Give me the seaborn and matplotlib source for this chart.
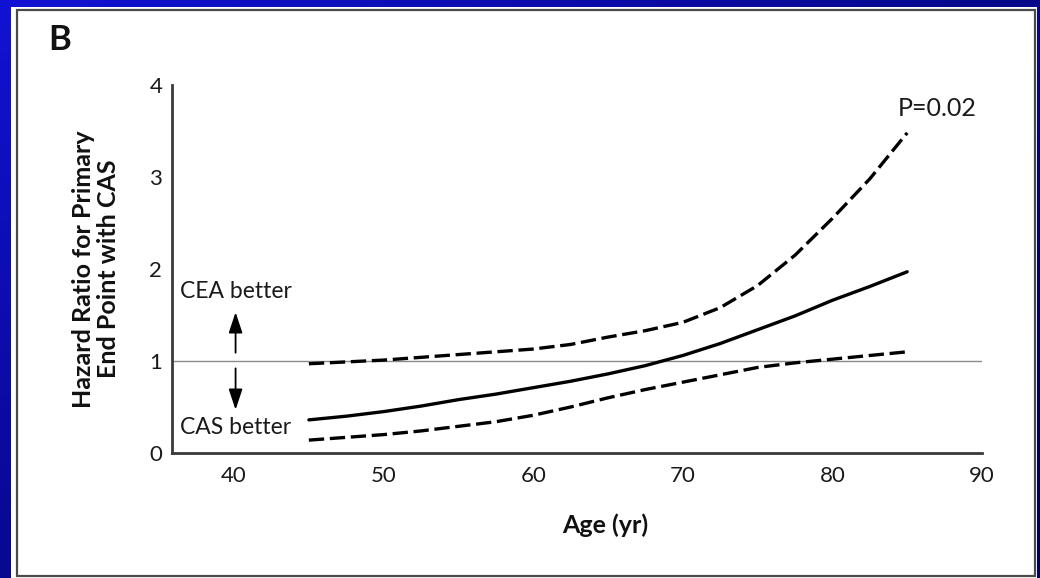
import numpy as np
import pandas as pd
import matplotlib
matplotlib.use("Agg")
import matplotlib.pyplot as plt
from matplotlib.patches import Rectangle
from matplotlib.colors import LinearSegmentedColormap
import seaborn as sns

# Hazard ratio (CAS vs CEA) by age, with 95% confidence band
age = [45, 47.5, 50, 52.5, 55, 57.5, 60, 62.5, 65, 67.5, 70, 72.5, 75, 77.5, 80, 82.5, 85]
hr_estimate = [0.36, 0.40, 0.45, 0.51, 0.58, 0.64, 0.71, 0.78, 0.86, 0.95, 1.06, 1.19, 1.34, 1.49, 1.66, 1.81, 1.97]
hr_upper = [0.97, 0.99, 1.01, 1.04, 1.07, 1.10, 1.13, 1.18, 1.26, 1.33, 1.42, 1.58, 1.82, 2.15, 2.55, 2.98, 3.48]
hr_lower = [0.14, 0.17, 0.20, 0.24, 0.29, 0.34, 0.41, 0.50, 0.60, 0.69, 0.77, 0.85, 0.93, 0.98, 1.02, 1.06, 1.10]

x_ticks = [40, 50, 60, 70, 80, 90]
y_ticks = [0, 1, 2, 3, 4]

df = pd.DataFrame({"age": age, "est": hr_estimate, "hi": hr_upper, "lo": hr_lower})

sns.set_theme(style="white")
plt.rcParams["font.family"] = ["Lato", "DejaVu Sans"]

W, H = 1040, 578
fig = plt.figure(figsize=(W / 100, H / 100), dpi=100)

# blue slide background, brighter toward the upper left
bg = fig.add_axes([0, 0, 1, 1], zorder=-10)
gx, gy = np.meshgrid(np.linspace(0, 1, 300), np.linspace(0, 1, 300))
shade = np.clip(1.0 - 0.6 * gx - 0.55 * gy, 0, 1)
cmap = LinearSegmentedColormap.from_list("slide", ["#000058", "#1212d4"])
bg.imshow(shade, cmap=cmap, extent=[0, 1, 0, 1], origin="upper", aspect="auto")
bg.axis("off")

# white panel with a thin grey frame
fig.patches.append(Rectangle((11 / W, 0), (1037 - 11) / W, (578 - 7) / H,
                             transform=fig.transFigure, facecolor="white",
                             edgecolor="none", zorder=-5))
fig.patches.append(Rectangle((17 / W, 1 - 576 / H), (1035 - 17) / W, (576 - 10) / H,
                             transform=fig.transFigure, facecolor="none",
                             edgecolor="#4a4a4a", lw=1.6, zorder=-4))

ax = fig.add_axes([172 / W, 1 - 453 / H, (982 - 172) / W, (453 - 85) / H])
ax.set_facecolor("none")

dash = (4.6, 1.7)
ax.axhline(1, color="#8a8a8a", lw=1.0, zorder=1)
sns.lineplot(data=df, x="age", y="hi", ax=ax, color="black", lw=2.4, dashes=dash)
sns.lineplot(data=df, x="age", y="est", ax=ax, color="black", lw=2.4)
sns.lineplot(data=df, x="age", y="lo", ax=ax, color="black", lw=2.4, dashes=dash)
for ln in (ax.lines[1], ax.lines[3]):
    ln.set_dashes(dash)

ax.set_xlim(35.85, 90)
ax.set_ylim(0, 4)
ax.set_xticks(x_ticks)
ax.set_yticks(y_ticks)
for s in ["top", "right"]:
    ax.spines[s].set_visible(False)
for s in ["left", "bottom"]:
    ax.spines[s].set_color("#3a3a3a")
    ax.spines[s].set_linewidth(2.0)
ax.tick_params(axis="x", direction="out", length=8, width=1.5, color="#3a3a3a",
               labelsize=16, pad=1, labelcolor="#1a1a1a")
ax.tick_params(axis="y", direction="out", length=6, width=1.5, color="#3a3a3a",
               labelsize=16, pad=1, labelcolor="#1a1a1a")

ax.set_xlabel("Age (yr)", fontsize=18, fontweight="bold", color="#111111")
ax.xaxis.set_label_coords((605 - 172) / 810, -0.165)
ax.set_ylabel("Hazard Ratio for Primary\nEnd Point with CAS", fontsize=18,
              fontweight="bold", color="#111111", linespacing=1.1)
ax.yaxis.set_label_coords(-0.064, 0.5)

# direction annotations
arrow = dict(arrowstyle="-|>,head_length=0.9,head_width=0.3", color="black",
             lw=1.3, mutation_scale=14, shrinkA=0, shrinkB=0)
ax.annotate("", xy=(40.1, 1.53), xytext=(40.1, 1.09), arrowprops=arrow)
ax.annotate("", xy=(40.1, 0.47), xytext=(40.1, 0.92), arrowprops=arrow)
ax.text(40.1, 1.75, "CEA better", ha="center", va="center", fontsize=16.5, color="#1a1a1a")
ax.text(40.1, 0.28, "CAS better", ha="center", va="center", fontsize=16.5, color="#1a1a1a")
ax.text(84.4, 3.75, "P=0.02", ha="left", va="center", fontsize=18, color="#1a1a1a")

fig.text(48 / W, 1 - 50 / H, "B", ha="left", va="baseline", fontsize=25,
         fontweight="bold", color="#111111")

fig.savefig("out.png", dpi=100)
